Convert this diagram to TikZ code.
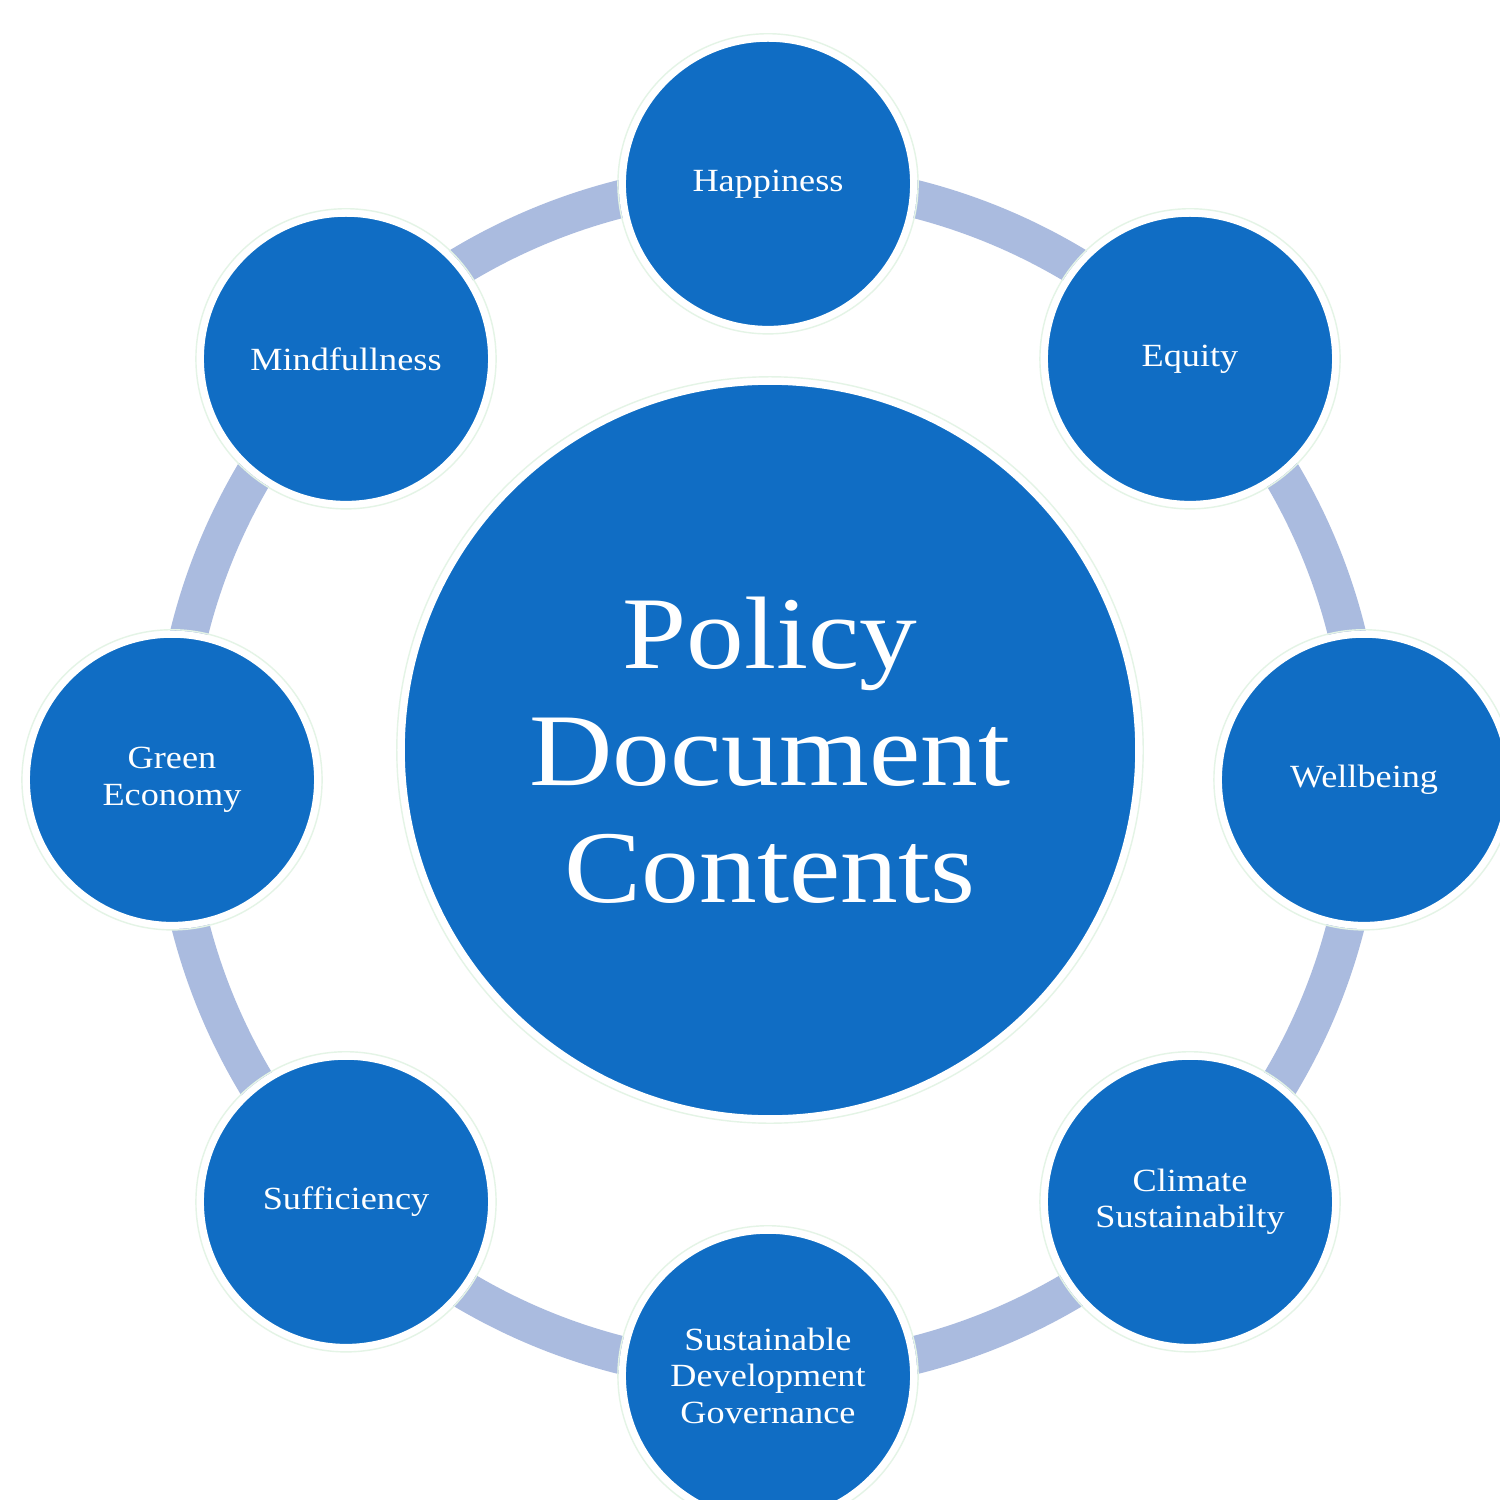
\documentclass[tikz,border=0pt]{standalone}
\usepackage{fontspec}
\setmainfont{Liberation Serif}[FakeStretch=1.12]
\definecolor{dotblue}{RGB}{16,109,196}
\definecolor{ringblue}{RGB}{170,187,223}
\definecolor{faintgreen}{RGB}{228,244,230}
\begin{document}
\begin{tikzpicture}[x=0.01cm,y=-0.01cm,
  topic/.style={circle, fill=dotblue, draw=white, line width=2pt,
    minimum size=2.91cm, inner sep=0pt, text=white, align=center,
    font=\fontsize{9.2pt}{10.4pt}\selectfont},
  hub/.style={circle, fill=dotblue, draw=white, line width=2pt,
    minimum size=7.37cm, inner sep=0pt, text=white, align=center,
    font=\fontsize{29.3pt}{33.3pt}\selectfont},
  ringline/.style={draw=ringblue, line width=10.8pt},
  halo/.style={draw=faintgreen, line width=0.4pt}]
\useasboundingbox (0,0) rectangle (1500,1500);
\fill[white] (0,0) rectangle (1500,1500);
\coordinate (o) at (768,777);
\draw[ringline] (o) circle[radius=5.96cm];

\node[hub]   (pdc) at (770,750) {Policy\\Document\\Contents};
\begin{scope}[every node/.append style={yshift=-0.8pt}]
\node[topic] (hap) at (768,181)  {Happiness};
\node[topic] (equ) at (1190,356) {Equity};
\node[topic] (wel) at (1364,777) {Wellbeing};
\node[topic] (cli) at (1190,1199) {Climate\\Sustainabilty};
\node[topic] (sdg) at (768,1373) {Sustainable\\Development\\Governance};
\node[topic] (suf) at (346,1199) {Sufficiency};
\node[topic] (gre) at (172,777)  {Green\\Economy};
\node[topic] (min) at (346,356)  {Mindfullness};
\end{scope}

\draw[halo] (pdc.center) circle[radius=3.73cm];
\foreach \n in {hap,equ,wel,cli,sdg,suf,gre,min}
  \draw[halo] (\n.center) circle[radius=1.5cm];
\end{tikzpicture}
\end{document}
